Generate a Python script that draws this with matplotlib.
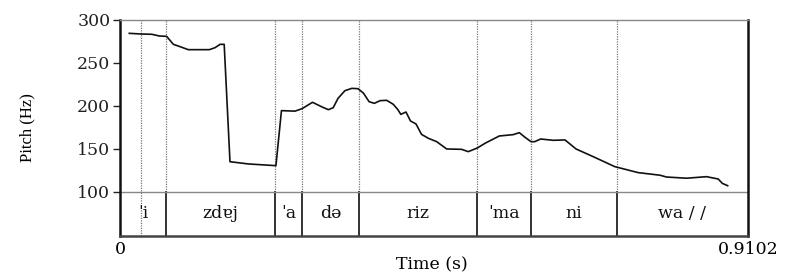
import matplotlib
matplotlib.use("Agg")
import matplotlib.pyplot as plt

# Pitch contour (time in s, pitch in Hz)
time_s = [0.0135, 0.031, 0.046, 0.057, 0.0676, 0.0773, 0.087, 0.099, 0.1295, 0.1377,
          0.145, 0.151, 0.1594, 0.186, 0.226, 0.234, 0.2536, 0.264, 0.279, 0.292,
          0.302, 0.309, 0.316, 0.326, 0.336, 0.345, 0.353, 0.361, 0.3686, 0.377,
          0.3865, 0.396, 0.4024, 0.407, 0.4145, 0.421, 0.429, 0.437, 0.447, 0.459,
          0.4735, 0.495, 0.5048, 0.518, 0.529, 0.5497, 0.570, 0.5787, 0.587, 0.5957,
          0.601, 0.6097, 0.628, 0.645, 0.661, 0.686, 0.717, 0.751, 0.7826, 0.792,
          0.8213, 0.850, 0.867, 0.873, 0.8807]
pitch_hz = [284.5, 283.7, 283.4, 281.4, 281.0, 271.7, 269.0, 265.5, 265.5, 267.8,
            271.7, 271.7, 135.2, 132.6, 130.6, 194.6, 194.0, 196.9, 204.3, 199.2,
            195.7, 198.0, 208.9, 217.8, 220.5, 220.1, 214.8, 205.0, 203.1, 206.2,
            206.6, 202.0, 196.1, 190.3, 193.0, 182.6, 179.1, 167.0, 162.4, 158.5,
            150.0, 149.6, 146.9, 151.2, 156.6, 165.1, 166.7, 169.0, 163.6, 158.5,
            158.5, 161.6, 160.1, 160.5, 150.0, 141.0, 129.5, 122.5, 119.5, 117.4,
            116.0, 117.8, 115.1, 110.0, 107.3]

# Syllable tier
boundaries = [0.0, 0.0667, 0.2246, 0.2638, 0.3464, 0.5174, 0.5957, 0.7203, 0.9102]
syllables = ["ˈi", "zdɐj", "ˈa", "də", "riz", "ˈma", "ni", "wa / /"]
extra_mark = [0.0304]
y_ticks = [100, 150, 200, 250, 300]
t_end = 0.9102

fig = plt.figure(figsize=(7.86, 2.73), dpi=100)
ax = fig.add_axes([120/786, 1-236/273, 628/786, 216/273])
ymin = 48.8
ax.set_xlim(0, t_end)
ax.set_ylim(ymin, 300)

# boundaries
for b in boundaries[1:-1]:
    ax.plot([b, b], [100, 300], color="#777777", lw=0.9, ls=(0, (1, 1)), zorder=1)
    ax.plot([b, b], [ymin, 100], color="#222222", lw=1.3, zorder=2)
for b in extra_mark:
    ax.plot([b, b], [ymin, 300], color="#777777", lw=0.9, ls=(0, (1, 1)), zorder=1)

ax.axhline(100, color="#888888", lw=1.0, zorder=2)

ax.plot(time_s, pitch_hz, color="#111111", lw=1.2, zorder=3)

for i, s in enumerate(syllables):
    c = (boundaries[i] + boundaries[i+1]) / 2
    ax.text(c, 74.5, s, ha="center", va="center", fontsize=12.5,
            family=["DejaVu Serif"], color="#111111")

ax.set_yticks(y_ticks)
ax.set_yticklabels([str(v) for v in y_ticks], family="DejaVu Serif", fontsize=12.5)
ax.tick_params(axis="y", direction="out", length=5, width=1, pad=2, colors="#222222")
ax.set_xticks([])

for side in ["left", "right"]:
    ax.spines[side].set_color("#111111")
    ax.spines[side].set_linewidth(1.8)
ax.spines["top"].set_color("#888888")
ax.spines["top"].set_linewidth(1.0)
ax.spines["bottom"].set_color("#444444")
ax.spines["bottom"].set_linewidth(1.8)

fig.text(120/786, 1-250/273, "0", ha="center", va="center", family="DejaVu Serif", fontsize=12.5)
fig.text(748/786, 1-250/273, "0.9102", ha="center", va="center", family="DejaVu Serif", fontsize=12.5)
fig.text(432/786, 1-265/273, "Time (s)", ha="center", va="center", family="DejaVu Serif", fontsize=12.5)
fig.text(27/786, 1-128/273, "Pitch (Hz)", ha="center", va="center", rotation=90,
         family="Liberation Serif", fontsize=12)

fig.savefig("out.png", dpi=100)
